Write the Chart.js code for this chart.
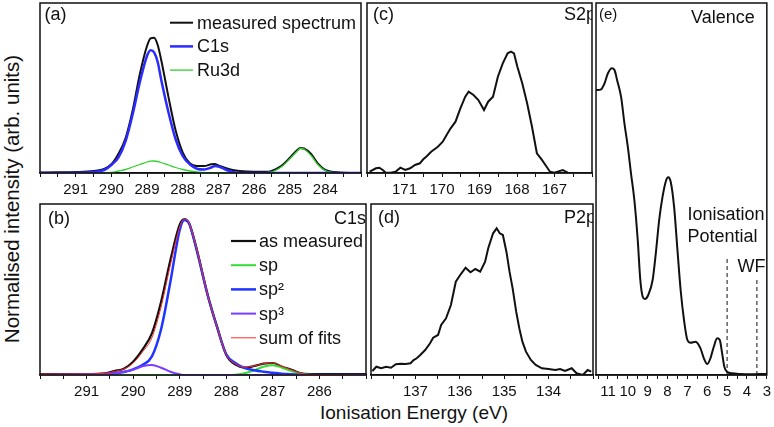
<!DOCTYPE html>
<html><head><meta charset="utf-8">
<script src="https://cdn.jsdelivr.net/npm/chart.js@4/dist/chart.umd.min.js"></script>
<style>
html,body{margin:0;padding:0;background:#fff;}
body{width:774px;height:427px;position:relative;overflow:hidden;font-family:"Liberation Sans",Arial,sans-serif;}
.panel{position:absolute;}
.panel canvas{display:block;}
.ytitle{position:absolute;left:12px;top:199px;transform:translate(-50%,-50%) rotate(-90deg);white-space:nowrap;font-size:20.5px;color:#111;}
.xtitle{position:absolute;left:414px;top:413px;transform:translate(-50%,-50%);white-space:nowrap;font-size:19px;color:#111;}
</style></head>
<body>
<div class="panel" style="left:36px;top:2px;"><canvas id="ca" width="329" height="195"></canvas></div>
<div class="panel" style="left:363px;top:2px;"><canvas id="cc" width="233" height="195"></canvas></div>
<div class="panel" style="left:36px;top:203px;"><canvas id="cb" width="334" height="196"></canvas></div>
<div class="panel" style="left:367px;top:203px;"><canvas id="cd" width="230" height="196"></canvas></div>
<div class="panel" style="left:594px;top:2px;"><canvas id="ce" width="181" height="397"></canvas></div>
<div class="ytitle">Normalised intensity (arb. units)</div>
<div class="xtitle">Ionisation Energy (eV)</div>
<script>
// ---------- Panel (a): C1s / Ru3d ----------
const energyA = [292,291.5,291,290.5,290.2,290.0,289.8,289.6,289.4,289.2,289.0,288.9,288.8,288.7,288.6,288.4,288.2,288.0,287.8,287.6,287.4,287.2,287.1,287.0,286.8,286.6,286.4,286.0,285.6,285.4,285.2,285.0,284.8,284.7,284.6,284.4,284.2,284.0,283.6,283.0];
const measuredA = [0.5,0.7,1,2,4,8.7,19.3,35,63,99,127,134.7,135.3,128,112.7,76.4,43,20.7,9.7,7,7,8.7,9,7.5,5,3,2,1.3,1.3,3.7,8,15,22.5,25,24.5,19,9,3,0.5,0];
const c1sA = [0,0,0.2,1,3,8,15.7,32,59,91,117,122.7,120.7,111,93,61,34,17,8.7,4.3,3.5,5.5,7,6.5,3.5,1,0,0,0,0,0,0,0,0,0,0,0,0,0,0];
const ru3dA = [0,0,0,0,0,0.5,2,3.5,6,8.5,11,11.8,12,11.5,10.5,8,5.5,3.5,2,1,0.5,0,0,0,0,0,0,0,0.5,2.5,7,14,21.5,24.5,24,17.5,8,2.5,0.2,0];
const ticksA = [291,290,289,288,287,286,285,284];

// ---------- Panel (b): C1s fit ----------
const energyB = [292,291.5,291,290.6,290.4,290.2,290.0,289.8,289.6,289.4,289.2,289.0,288.9,288.8,288.7,288.6,288.4,288.2,288.0,287.8,287.6,287.4,287.2,287.0,286.8,286.6,286.4,286.2,286.0,285.5,285.0];
const measuredB = [1,1,1,1.7,4,6.3,13.3,25.3,41.3,73.3,115,150.3,156,151.7,137.3,119.3,80,48.3,20,10.3,7.3,9,11.3,12,8.3,5.3,1.7,1,1,1,1];
const spB = [0,0,0,0,0,0,0,0,0,0,0,0,0,0,0,0,0,0,0,0.3,1.7,4.7,8.3,9.7,7.3,4,1.3,0.3,0,0,0];
const sp2B = [0,0.3,0.7,1,1.7,3,5.7,10,18.3,45.7,93.3,145,155,151.7,136.7,118.3,80,48.3,20.7,11.7,7,4.7,3.3,2.3,1.3,0.7,0,0,0,0,0];
const sp3B = [0,0,0.3,0.7,1.5,3.3,5.3,8.7,10,7.3,3.3,0.7,0,0,0,0,0,0,0,0,0,0,0,0,0,0,0,0,0,0,0];
const sumB = [1,1,1,1.7,3.5,6,12,23,37,68,110,148,156,152,137.5,119.5,80,48.3,20.5,11,8,9,11.5,12,8.5,5,1.5,0.5,0.3,0,0];
const ticksB = [291,290,289,288,287,286];

// ---------- Panel (c): S2p ----------
const energyC = [171.93,171.76,171.67,171.58,171.50,171.37,171.24,171.11,170.98,170.85,170.72,170.59,170.50,170.42,170.29,170.11,169.98,169.85,169.77,169.64,169.51,169.38,169.29,169.16,169.03,168.88,168.77,168.64,168.51,168.38,168.25,168.16,168.08,167.99,167.86,167.73,167.60,167.47,167.34,167.21,167.12,167.00,166.78,166.65,166.49];
const s2pC = [1.3,4.7,5.3,3,0.3,0.3,1.3,5.3,3,4.7,8,9.7,13.7,16.3,21.3,26.3,31.3,39.7,44.7,51.3,64.7,76.3,81.3,78,73,63,71.3,76.3,96.3,109.7,119.7,121.3,119.7,106.3,89.7,69.7,46.3,19.7,13.3,6.3,1.3,0.3,3,0.3,0];
const ticksC = [171,170,169,168,167];

// ---------- Panel (d): P2p ----------
const energyD = [137.97,137.88,137.77,137.66,137.55,137.44,137.33,137.22,137.11,137.04,136.97,136.89,136.78,136.67,136.60,136.49,136.42,136.31,136.20,136.09,135.98,135.87,135.76,135.65,135.54,135.43,135.36,135.25,135.17,135.10,135.03,134.95,134.88,134.81,134.73,134.66,134.59,134.51,134.40,134.29,134.15,134.00,133.85,133.74,133.63,133.48,133.37,133.23,133.12,133.04];
const p2pD = [4,8.3,6.7,8.3,7.3,10.7,11.3,11,11.7,15,16.7,20,25,31.7,37.3,40,50,56.7,70,93.3,100.7,107.3,102.7,106,103.3,113.3,126.7,141.7,146.7,141.7,140,123.3,103.3,86.7,63.3,46.7,33.3,23.3,15,10,6.7,6,5,6,4,6.7,1.7,0,5,3.3];
const ticksD = [137,136,135,134];

// ---------- Panel (e): Valence ----------
const energyE = [11.6,11.53,11.34,11.17,11.00,10.80,10.67,10.54,10.34,10.17,10.00,9.84,9.67,9.50,9.37,9.25,9.14,8.97,8.75,8.59,8.42,8.25,8.09,7.97,7.84,7.67,7.50,7.34,7.17,7.00,6.84,6.59,6.34,6.17,6.00,5.84,5.67,5.50,5.37,5.25,5.14,5.00,4.75,4.34,3.84,3.34,3.00];
const valenceE = [285,285,285.7,291.7,301.7,306.7,305,295,278.3,251.7,228.3,201.7,175,135,95,78.3,76,80,95,121.7,155,178.3,193.3,197.7,193.3,168.3,125,85,55,35,32.3,33.3,26.7,16.7,11,16.7,28.3,36.7,35,21.7,8.3,3.3,1.7,1,0.7,1,1];
const markerEnergyE = [5.0, 3.5];
const markerTopE = [118, 97];
const ticksE = [11,10,9,8,7,6,5,4,3];

// ---------- text ----------
const FONT = '"Liberation Sans", Arial, sans-serif';
const zip = (xs, ys) => xs.map((x, i) => ({x, y: ys[i]}));

const decor = {
  id: 'decor',
  afterDraw(chart, args, opts) {
    const {ctx, chartArea: a} = chart;
    ctx.save();
    ctx.fillStyle = '#111';
    ctx.textBaseline = 'middle';
    ctx.save();
    ctx.beginPath();
    ctx.rect(a.left, a.top, a.width, a.height);
    ctx.clip();
    for (const t of (opts.texts || [])) {
      ctx.font = (t.size || 18) + 'px ' + FONT;
      ctx.textAlign = t.align || 'left';
      ctx.fillText(t.text, a.left + t.x, a.top + t.y);
    }
    const L = opts.legend;
    if (L) {
      ctx.font = (L.size || 18) + 'px ' + FONT;
      ctx.textAlign = 'left';
      chart.data.datasets.forEach((ds, i) => {
        const y = a.top + L.y0 + i * L.dy;
        ctx.strokeStyle = ds.borderColor;
        ctx.lineWidth = ds.borderWidth;
        ctx.beginPath();
        ctx.moveTo(a.left + L.x0, y);
        ctx.lineTo(a.left + L.x1, y);
        ctx.stroke();
        ctx.fillText(ds.label, a.left + L.tx, y + 1);
      });
    }
    ctx.restore();
    ctx.strokeStyle = '#111';
    ctx.lineWidth = 1.5;
    ctx.strokeRect(a.left, a.top, a.width, a.height);
    ctx.restore();
  }
};

function xScale(min, max, labeled) {
  return {
    type: 'linear', reverse: true, min, max,
    afterFit(s) { s.height = 24; },
    border: {display: true, color: '#111', width: 1.5},
    grid: {drawOnChartArea: false, drawTicks: true, tickLength: 4, color: '#111', lineWidth: 1},
    ticks: {
      stepSize: 0.5, autoSkip: false, maxRotation: 0, minRotation: 0, padding: 4,
      includeBounds: false, color: '#111', font: {family: FONT, size: 15},
      callback: (v) => labeled.includes(v) ? String(v) : ''
    }
  };
}

function makeChart(id, datasets, xs, ymax, decorOpts, padRight) {
  return new Chart(document.getElementById(id), {
    type: 'line',
    data: {datasets},
    options: {
      responsive: false, animation: false, devicePixelRatio: 1,
      layout: {autoPadding: false, padding: {left: 1, top: 1, right: padRight || 1, bottom: 0}},
      elements: {point: {radius: 0}},
      scales: {x: xs, y: {display: false, min: 0, max: ymax}},
      plugins: {legend: {display: false}, tooltip: {enabled: false}, decor: decorOpts}
    },
    plugins: [decor]
  });
}

const smooth = {cubicInterpolationMode: 'monotone', fill: false, pointRadius: 0};

// (a)
makeChart('ca', [
  {label: 'measured spectrum', data: zip(energyA, measuredA), borderColor: '#111111', borderWidth: 2, order: 3, ...smooth},
  {label: 'C1s', data: zip(energyA, c1sA), borderColor: '#2b2bff', borderWidth: 2.5, order: 1, ...smooth},
  {label: 'Ru3d', data: zip(energyA, ru3dA), borderColor: '#2fcf2f', borderWidth: 1.3, order: 2, ...smooth}
], xScale(283, 292, ticksA), 170, {
  texts: [{text: '(a)', x: 4.5, y: 12}],
  legend: {x0: 130, x1: 153, tx: 157, y0: 19.7, dy: 23.7, size: 18}
});

// (b)
makeChart('cb', [
  {label: 'as measured', data: zip(energyB, measuredB), borderColor: '#111111', borderWidth: 2.2, order: 5, ...smooth},
  {label: 'sp', data: zip(energyB, spB), borderColor: '#33dd33', borderWidth: 2, order: 4, ...smooth},
  {label: 'sp²', data: zip(energyB, sp2B), borderColor: '#1f35ff', borderWidth: 2.5, order: 3, ...smooth},
  {label: 'sp³', data: zip(energyB, sp3B), borderColor: '#7a3cff', borderWidth: 2, order: 2, ...smooth},
  {label: 'sum of fits', data: zip(energyB, sumB), borderColor: '#ff2a2a', borderWidth: 1, order: 1, ...smooth}
], xScale(285, 292, ticksB), 171, {
  texts: [{text: '(b)', x: 8, y: 15}, {text: 'C1s', x: 326, y: 15, align: 'right'}],
  legend: {x0: 191, x1: 216, tx: 219, y0: 37, dy: 24.2, size: 18}
});

// (c)
makeChart('cc', [
  {label: 'S2p', data: zip(energyC, s2pC), borderColor: '#111111', borderWidth: 2, tension: 0, fill: false}
], xScale(166, 172, ticksC), 170, {
  texts: [{text: '(c)', x: 6, y: 12}, {text: 'S2p', x: 197, y: 12}]
});

// (d)
makeChart('cd', [
  {label: 'P2p', data: zip(energyD, p2pD), borderColor: '#111111', borderWidth: 2, tension: 0, fill: false}
], xScale(133, 138, ticksD), 171, {
  texts: [{text: '(d)', x: 7, y: 14}, {text: 'P2p', x: 193, y: 14}]
});

// (e)
makeChart('ce', [
  {label: 'Valence', data: zip(energyE, valenceE), borderColor: '#111111', borderWidth: 2, ...smooth},
  {label: 'Ionisation Potential', data: [{x: markerEnergyE[0], y: 0}, {x: markerEnergyE[0], y: markerTopE[0]}], borderColor: '#111111', borderWidth: 1, borderDash: [4, 3], fill: false},
  {label: 'WF', data: [{x: markerEnergyE[1], y: 0}, {x: markerEnergyE[1], y: markerTopE[1]}], borderColor: '#111111', borderWidth: 1, borderDash: [4, 3], fill: false}
], xScale(3, 11.6, ticksE), 372, {
  texts: [
    {text: '(e)', x: 3, y: 12, size: 15},
    {text: 'Valence', x: 95, y: 15.5},
    {text: 'Ionisation', x: 91.5, y: 212},
    {text: 'Potential', x: 91.5, y: 234},
    {text: 'WF', x: 141.5, y: 264}
  ]
}, 8);
</script>
</body></html>
